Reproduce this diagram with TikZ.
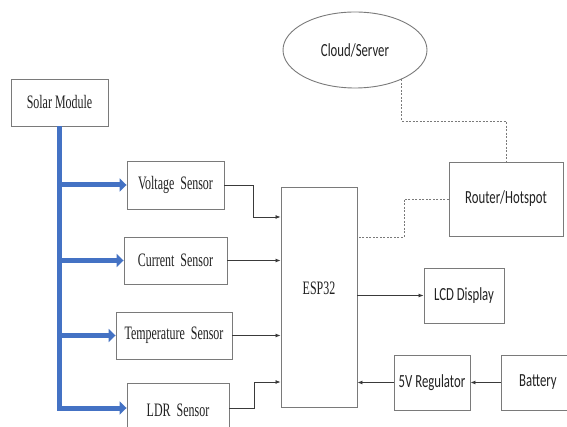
\documentclass[tikz,border=0pt]{standalone}
\usepackage{fontspec}
\usetikzlibrary{arrows.meta,shapes.geometric}
\newfontfamily\tnrfont[FakeStretch=0.63]{Liberation Serif}
\newfontfamily\calfontx[FakeStretch=0.69]{Carlito}
\definecolor{boxgray}{HTML}{7A7A7A}
\definecolor{linegray}{HTML}{3A3A3A}
\definecolor{busblue}{HTML}{4472C4}
\definecolor{txt}{HTML}{222222}
\begin{document}
\begin{tikzpicture}[x=1pt,y=-1pt,
  tfont/.style={font=\tnrfont\fontsize{19}{19}\selectfont,text=txt},
  blk/.style={draw=boxgray,line width=0.9pt,rectangle,inner sep=0pt,text=txt},
  tblk/.style={blk,tfont},
  cblk/.style={blk,font=\calfontx\fontsize{18.5}{18.5}\selectfont},
  arr/.style={draw=linegray,line width=0.8pt,-{Latex[length=5pt,width=4pt]}},
  dsh/.style={draw=boxgray,line width=0.9pt,dash pattern=on 2pt off 1.5pt},
  bus/.style={draw=busblue,line width=5pt},
  busarr/.style={draw=busblue,line width=5pt,-{Triangle[length=7pt,width=13pt]}}]
\useasboundingbox (0,0) rectangle (567,427);
\clip (0,0) rectangle (567,427);
\fill[white] (0,0) rectangle (567,427);

% nodes
\node[tblk,minimum width=97pt,minimum height=47pt] (solar) at (59.5,102.5) {Solar Module};
\node[tblk,minimum width=97pt,minimum height=48pt] (volt) at (175.5,185) {Voltage\ \ Sensor};
\node[tblk,minimum width=103pt,minimum height=47pt] (curr) at (175.5,260.5) {Current\ \ Sensor};
\node[tblk,minimum width=116pt,minimum height=47pt] (temp) at (174,335.5) {Temperature\ \ Sensor};
\node[tblk,minimum width=102pt,minimum height=50pt,anchor=north] (ldr) at (178,383) {};
\node[tfont] (ldrlabel) at (178,410) {LDR\ \ Sensor};
\node[blk,minimum width=76pt,minimum height=220pt] (esp) at (319,297.5) {};
\node[tfont] (esplabel) at (319,288) {ESP32};
\node[cblk,ellipse,minimum width=144pt,minimum height=76pt] (cloud) at (355,50) {Cloud/Server};
\node[cblk,minimum width=114pt,minimum height=74pt] (router) at (506,199) {Router/Hotspot};
\node[cblk,minimum width=80pt,minimum height=55pt] (lcd) at (464,295.5) {LCD Display};
\node[cblk,minimum width=76pt,minimum height=55pt] (reg) at (432,382.5) {5V Regulator};
\node[cblk,minimum width=74pt,minimum height=55pt] (bat) at (538,382.5) {Battery};

% power bus
\coordinate (busend) at (solar.south |- 0,408);
\draw[bus] (solar.south) -- ([yshift=2.5pt]busend);
\draw[busarr] ([xshift=-2.5pt]solar.south |- volt.west) -- (volt.west);
\draw[busarr] ([xshift=-2.5pt]solar.south |- curr.west) -- (curr.west);
\draw[busarr] ([xshift=-2.5pt]solar.south |- temp.west) -- (temp.west);
\draw[busarr] ([xshift=-2.5pt]busend) -- (busend -| ldr.west);

% sensor connectors
\coordinate (vj) at (253,217);
\draw[arr] (volt.east) -| (vj) -- (vj -| esp.west);
\draw[arr] (curr.east) -- (curr.east -| esp.west);
\draw[arr] (temp.east) -- (temp.east -| esp.west);
\coordinate (lj) at (254,382);
\draw[arr] (ldr.east |- 0,408) -| (lj) -- (lj -| esp.west);

% outputs / power
\draw[arr] (esp.east |- lcd.west) -- (lcd.west);
\draw[arr] (reg.west) -- (reg.west -| esp.east);
\draw[arr] (bat.west) -- (reg.east);

% network (dashed)
\path (cloud.-32) coordinate (c0);
\draw[dsh] (c0) -- (c0 |- 0,121) -| (router.north);
\coordinate (d2) at (404,237);
\draw[dsh] (router.west) -| (d2) -- (d2 -| esp.east);
\end{tikzpicture}
\end{document}
